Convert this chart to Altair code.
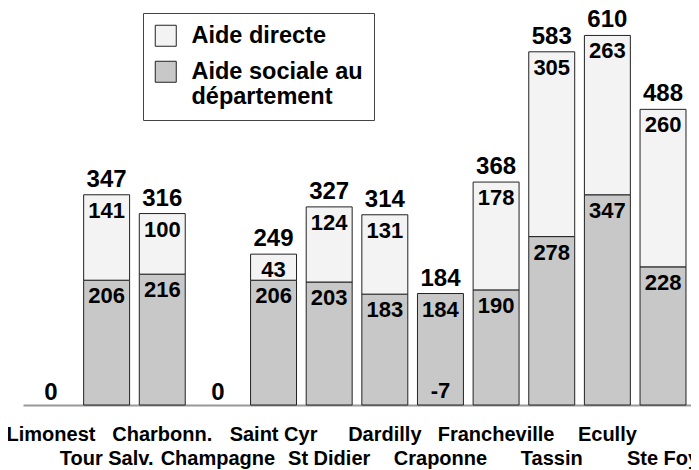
import altair as alt
import pandas as pd

communes = ["Limonest", "Tour Salv.", "Charbonn.", "Champagne", "Saint Cyr", "St Didier",
            "Dardilly", "Craponne", "Francheville", "Tassin", "Ecully", "Ste Foy"]
aide_sociale = [0, 206, 216, 0, 206, 203, 183, 184, 190, 278, 347, 228]
aide_directe = [0, 141, 100, 0, 43, 124, 131, -7, 178, 305, 263, 260]
totaux = [0, 347, 316, 0, 249, 327, 314, 184, 368, 583, 610, 488]
series = ["Aide directe", "Aide sociale au département"]
second_rang = ["Tour Salv.", "Champagne", "St Didier", "Craponne", "Tassin", "Ste Foy"]

rows = []
for c, s, d in zip(communes, aide_sociale, aide_directe):
    rows.append({"commune": c, "serie": series[1], "valeur": s, "bas": 0, "haut": s})
    rows.append({"commune": c, "serie": series[0], "valeur": d, "bas": s, "haut": s + max(d, 0)})
segments = pd.DataFrame(rows)
tot = pd.DataFrame({"commune": communes, "total": totaux})

FONT = "Liberation Sans"
liste = "[" + ",".join("'" + s + "'" for s in second_rang) + "]"

x = alt.X(
    "commune:N", sort=communes,
    scale=alt.Scale(paddingInner=0.174, paddingOuter=0.09),
    axis=alt.Axis(
        title=None, labelAngle=0, ticks=False, labelPadding=19,
        labelFont=FONT, labelFontSize=20, labelFontWeight="bold", labelColor="black",
        domainColor="#999999", domainWidth=2, labelLineHeight=24, labelLimit=300,
        labelExpr="indexof(" + liste + ", datum.value) >= 0 ? ['', datum.label] : datum.label",
    ),
)
yscale = alt.Scale(domain=[0, 652], nice=False)

bars = alt.Chart(segments).transform_filter("datum.haut > datum.bas").mark_bar(
    stroke="#222222", strokeWidth=1
).encode(
    x=x,
    y=alt.Y("bas:Q", scale=yscale, axis=None),
    y2="haut:Q",
    fill=alt.Fill(
        "serie:N",
        scale=alt.Scale(domain=series, range=["#f3f3f3", "#c8c8c8"]),
        legend=alt.Legend(
            title=None, orient="none", legendX=120, legendY=3, direction="vertical",
            symbolType="square", symbolSize=441, symbolStrokeColor="#222222",
            symbolStrokeWidth=1, symbolOpacity=1,
            labelFont=FONT, labelFontSize=23.5, labelFontWeight="bold", labelColor="black",
            labelLimit=400, labelOffset=14, padding=11, rowPadding=10,
            strokeColor="#444444", fillColor="white",
            labelExpr="datum.label == 'Aide sociale au département' ? ['Aide sociale au', 'département'] : datum.label",
        ),
    ),
)

seg_labels = alt.Chart(segments).transform_filter("datum.valeur > 0").transform_calculate(
    txt="toString(datum.valeur)"
).mark_text(
    font=FONT, fontSize=22, fontWeight="bold", color="black", baseline="alphabetic", dy=23
).encode(x=alt.X("commune:N", sort=communes), y=alt.Y("haut:Q", scale=yscale), text="txt:N")

neg_labels = alt.Chart(segments).transform_filter("datum.valeur < 0").transform_calculate(
    txt="toString(datum.valeur)"
).mark_text(
    font=FONT, fontSize=22, fontWeight="bold", color="black", baseline="alphabetic", dy=-7
).encode(x=alt.X("commune:N", sort=communes), y=alt.datum(0), text="txt:N")

tot_labels = alt.Chart(tot).transform_filter("datum.total > 0").mark_text(
    font=FONT, fontSize=24, fontWeight="bold", color="black", baseline="alphabetic", dy=-8
).encode(x=alt.X("commune:N", sort=communes), y=alt.Y("total:Q", scale=yscale), text="total:Q")

zero_labels = alt.Chart(tot).transform_filter("datum.total == 0").mark_text(
    font=FONT, fontSize=24, fontWeight="bold", color="black", baseline="alphabetic", dy=-5
).encode(x=alt.X("commune:N", sort=communes), y=alt.Y("total:Q", scale=yscale), text="total:Q")

chart = alt.layer(bars, seg_labels, neg_labels, tot_labels, zero_labels).properties(
    width=668, height=395,
    autosize=alt.AutoSizeParams(type="none"),
    padding={"left": 15, "top": 2, "right": 0, "bottom": 64},
).configure_view(stroke=None)

chart.save("out.html", embed_options={"renderer": "svg", "actions": False})
